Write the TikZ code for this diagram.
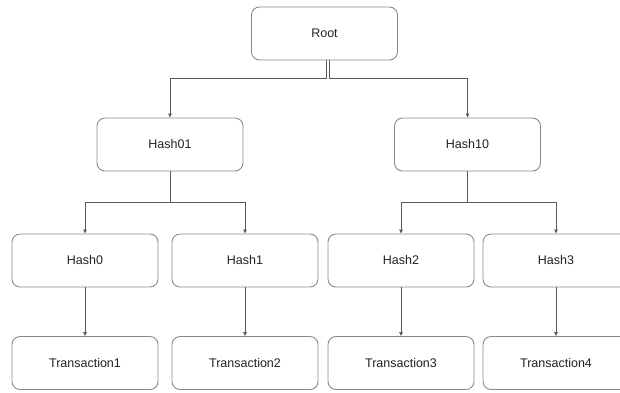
\documentclass[tikz,border=0pt]{standalone}
\usepackage{fontspec}
\setmainfont{Liberation Sans}
\usetikzlibrary{arrows.meta}
\definecolor{boxline}{HTML}{8A8A8A}
\definecolor{wire}{HTML}{5A5A5A}
\definecolor{txt}{HTML}{222222}
\begin{document}
\begin{tikzpicture}[x=1pt,y=-1pt,
  box/.style={draw=boxline, line width=0.9pt, rounded corners=8pt, minimum width=146pt, minimum height=53pt, inner sep=0pt, text=txt, font=\fontsize{12.5}{15}\selectfont, fill=white},
  wirearrow/.style={draw=wire, line width=0.8pt, -{Triangle[length=4pt,width=3.5pt]}}]
\useasboundingbox (0,0) rectangle (620,392);
\node[box] (root) at (324.5,33.5) {Root};
\node[box] (h01) at (170,144.5) {Hash01};
\node[box] (h10) at (467.5,144.5) {Hash10};
\node[box] (h0) at (85,260.5) {Hash0};
\node[box] (h1) at (245,260.5) {Hash1};
\node[box] (h2) at (401,260.5) {Hash2};
\node[box] (h3) at (556,260.5) {Hash3};
\node[box] (t1) at (85,363) {Transaction1};
\node[box] (t2) at (245,363) {Transaction2};
\node[box] (t3) at (401,363) {Transaction3};
\node[box] (t4) at (556,363) {Transaction4};
\coordinate (rl) at (326.5,60);
\coordinate (rr) at (329.5,60);
\draw[wirearrow] (rl) |- (170,78) -- (h01.north);
\draw[wirearrow] (rr) |- (467.5,78) -- (h10.north);
\draw[wirearrow] (h01.south) |- (85,202) -- (h0.north);
\draw[wirearrow] (h01.south) |- (245,202) -- (h1.north);
\draw[wirearrow] (h10.south) |- (401,202) -- (h2.north);
\draw[wirearrow] (h10.south) |- (556,202) -- (h3.north);
\draw[wirearrow] (h0) -- (t1);
\draw[wirearrow] (h1) -- (t2);
\draw[wirearrow] (h2) -- (t3);
\draw[wirearrow] (h3) -- (t4);
\end{tikzpicture}
\end{document}
